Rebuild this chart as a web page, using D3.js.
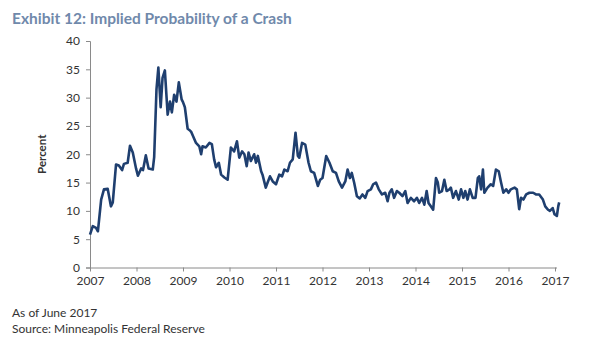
<!DOCTYPE html>
<html>
<head>
<meta charset="utf-8">
<script src="https://cdn.jsdelivr.net/npm/d3@7"></script>
<style>
  body { margin: 0; background: #fff; }
  svg text { font-family: Lato, "Open Sans", sans-serif; }
</style>
</head>
<body>
<div id="chart"></div>
<script>
// decimal years
const dates = [
  2007.00, 2007.06, 2007.13, 2007.17, 2007.24, 2007.30, 2007.38, 2007.45, 2007.49, 2007.56,
  2007.62, 2007.69, 2007.73, 2007.81, 2007.86, 2007.92, 2007.99, 2008.03, 2008.10, 2008.14,
  2008.20, 2008.26, 2008.35, 2008.38, 2008.43, 2008.47, 2008.52, 2008.56, 2008.61, 2008.67,
  2008.72, 2008.76, 2008.81, 2008.86, 2008.91, 2008.97, 2009.00, 2009.04, 2009.10, 2009.15,
  2009.18, 2009.28, 2009.35, 2009.39, 2009.42, 2009.49, 2009.57, 2009.62, 2009.67, 2009.71,
  2009.77, 2009.82, 2009.89, 2009.96, 2010.03, 2010.10, 2010.16, 2010.21, 2010.27, 2010.32,
  2010.37, 2010.41, 2010.46, 2010.53, 2010.57, 2010.61, 2010.68, 2010.71, 2010.78, 2010.82,
  2010.87, 2010.93, 2011.00, 2011.07, 2011.13, 2011.18, 2011.25, 2011.30, 2011.36, 2011.42,
  2011.47, 2011.50, 2011.56, 2011.63, 2011.70, 2011.75, 2011.82, 2011.90, 2011.95, 2012.00,
  2012.08, 2012.15, 2012.22, 2012.29, 2012.35, 2012.42, 2012.49, 2012.54, 2012.59, 2012.63,
  2012.68, 2012.74, 2012.80, 2012.86, 2012.92, 2012.97, 2013.04, 2013.09, 2013.15, 2013.21,
  2013.28, 2013.35, 2013.40, 2013.44, 2013.49, 2013.54, 2013.60, 2013.65, 2013.72, 2013.78,
  2013.83, 2013.90, 2013.97, 2014.03, 2014.08, 2014.14, 2014.19, 2014.24, 2014.28, 2014.33,
  2014.38, 2014.44, 2014.48, 2014.51, 2014.57, 2014.62, 2014.67, 2014.73, 2014.76, 2014.81,
  2014.87, 2014.93, 2014.98, 2015.03, 2015.07, 2015.12, 2015.17, 2015.23, 2015.29, 2015.34,
  2015.37, 2015.41, 2015.45, 2015.48, 2015.55, 2015.62, 2015.67, 2015.73, 2015.79, 2015.84,
  2015.89, 2015.95, 2016.00, 2016.05, 2016.13, 2016.18, 2016.23, 2016.27, 2016.32, 2016.38,
  2016.45, 2016.53, 2016.59, 2016.66, 2016.74, 2016.79, 2016.85, 2016.89, 2016.95, 2016.99,
  2017.04, 2017.07, 2017.09
]
// implied probability of a crash, percent
const probability = [
  5.8, 7.3, 7.0, 6.4, 12.0, 13.8, 13.9, 10.8, 11.5, 18.2,
  18.0, 17.2, 18.3, 18.5, 21.5, 20.3, 17.5, 16.2, 17.5, 17.2,
  19.8, 17.5, 17.3, 19.5, 31.5, 35.3, 28.3, 33.5, 34.8, 27.0,
  29.3, 27.4, 30.5, 29.3, 32.7, 29.7, 29.2, 28.3, 24.5, 24.2,
  23.9, 22.0, 21.4, 20.0, 21.4, 21.2, 22.0, 21.8, 19.1, 17.7,
  18.5, 16.4, 15.9, 15.5, 21.2, 20.5, 22.3, 19.4, 20.5, 20.0,
  17.9, 20.3, 18.8, 20.0, 18.5, 19.7, 17.0, 16.4, 14.1, 15.0,
  16.1, 15.2, 14.7, 16.4, 16.1, 17.3, 17.0, 18.5, 19.1, 23.8,
  19.7, 19.4, 22.0, 21.7, 18.5, 17.0, 16.7, 14.4, 15.5, 15.8,
  19.7, 18.5, 17.0, 16.7, 15.2, 14.1, 15.2, 17.3, 15.8, 16.7,
  15.0, 12.6, 12.2, 12.9, 12.3, 13.5, 13.8, 14.7, 15.0, 13.8,
  12.9, 13.2, 11.7, 13.2, 13.8, 12.3, 13.5, 13.2, 12.6, 13.5,
  11.4, 12.3, 11.7, 12.3, 11.4, 12.3, 11.1, 13.5, 11.4, 10.8,
  10.2, 15.8, 15.0, 13.2, 13.5, 15.5, 13.5, 13.8, 14.1, 12.3,
  13.5, 12.0, 13.8, 12.3, 13.5, 12.0, 13.8, 12.3, 12.3, 15.8,
  16.1, 13.8, 17.3, 13.2, 14.1, 14.7, 14.4, 17.3, 17.0, 15.0,
  13.2, 13.8, 13.2, 13.8, 14.1, 13.8, 10.3, 12.3, 12.0, 12.9,
  13.2, 13.2, 12.9, 12.9, 12.0, 10.8, 10.2, 10.0, 10.5, 9.4,
  9.1, 10.8, 11.5
]
const yearTicks = [2007, 2008, 2009, 2010, 2011, 2012, 2013, 2014, 2015, 2016, 2017]
const percentTicks = [0, 5, 10, 15, 20, 25, 30, 35, 40]

const title = "Exhibit 12: Implied Probability of a Crash"
const notes = ["As of June 2017", "Source: Minneapolis Federal Reserve"]

const width = 600, height = 345
const svg = d3.select("#chart").append("svg")
    .attr("width", width).attr("height", height)

const x = d3.scaleLinear().domain([2007, 2017]).range([90, 555])
const y = d3.scaleLinear().domain([0, 40]).range([267.5, 41])

//title
svg.append("text")
    .attr("x", 12).attr("y", 23.5)
    .attr("font-size", 15.5).attr("font-weight", 700)
    .attr("fill", "#7089ab")
    .text(title)

//axes
const yAxis = svg.append("g")
    .attr("transform", `translate(${x(2007)},0)`)
    .call(d3.axisLeft(y).tickValues(percentTicks).tickSize(4).tickPadding(6))
const xAxis = svg.append("g")
    .attr("transform", `translate(0,${y(0)})`)
    .call(d3.axisBottom(x).tickValues(yearTicks).tickFormat(d3.format("d")).tickSize(4).tickPadding(5))

;[yAxis, xAxis].forEach(g => {
    g.selectAll("path, line").attr("stroke", "#8a8a8a")
    g.selectAll("text").attr("fill", "#333").attr("font-size", 12)
        .style("font-family", "Lato, 'Open Sans', sans-serif")
})
xAxis.select(".domain").attr("d", `M${x(2007)},0.5H${x(2017) + 2}`)

svg.append("text")
    .attr("transform", `translate(46,${y(20)}) rotate(-90)`)
    .attr("text-anchor", "middle")
    .attr("font-size", 11.5).attr("font-weight", 700)
    .attr("fill", "#333")
    .text("Percent")

//the series
const points = dates.map((d, i) => [d, probability[i]])
const line = d3.line().x(d => x(d[0])).y(d => y(d[1]))
svg.append("path")
    .datum(points)
    .attr("d", line)
    .attr("fill", "none")
    .attr("stroke", "#1f3f6f")
    .attr("stroke-width", 2.6)
    .attr("stroke-linejoin", "round")

//footnotes
svg.selectAll(".note").data(notes).join("text")
    .attr("class", "note")
    .attr("x", 12)
    .attr("y", (d, i) => 317 + i * 16)
    .attr("font-size", 12)
    .attr("fill", "#333")
    .text(d => d)
</script>
</body>
</html>
